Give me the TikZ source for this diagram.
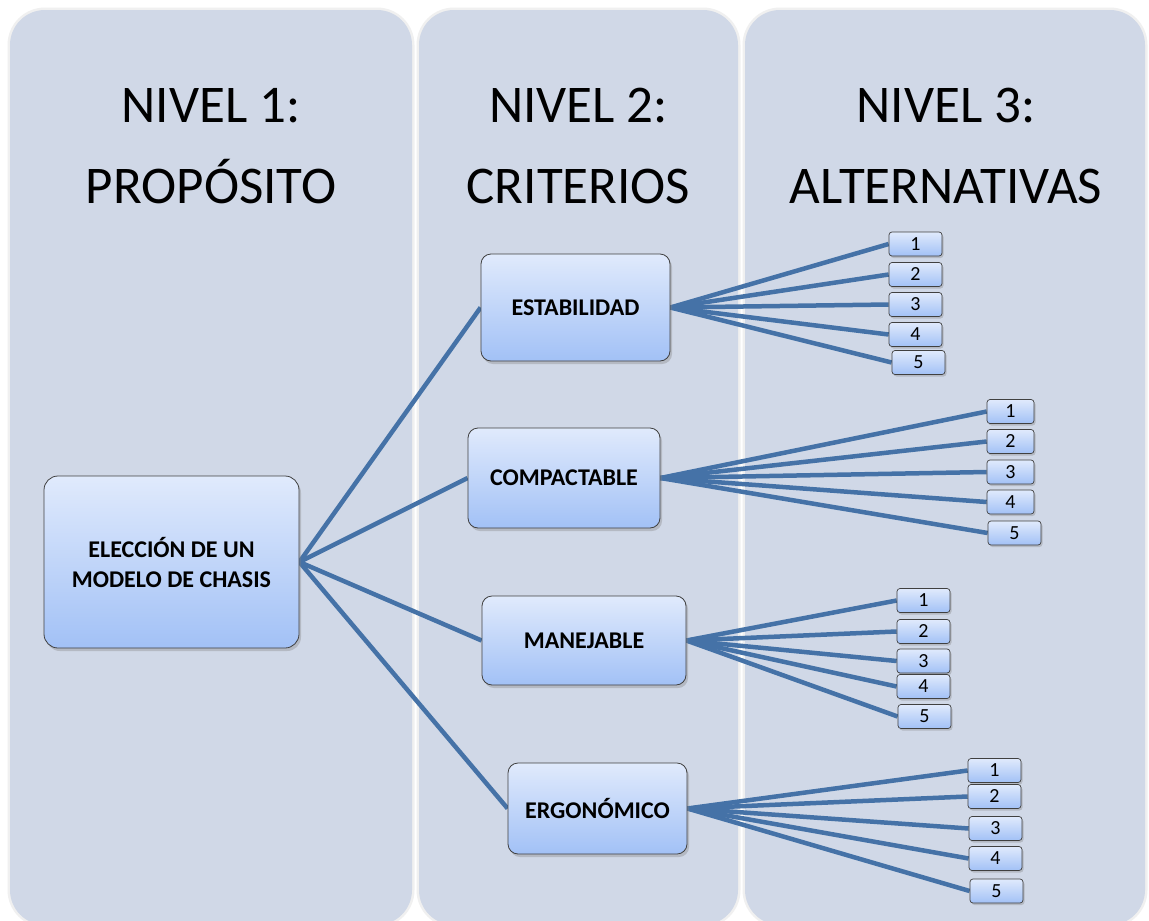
\documentclass[tikz,border=0pt]{standalone}
\usepackage{fontspec}
\setmainfont{Carlito}
\usetikzlibrary{shadows}
\pgfdeclarelayer{panels}
\pgfdeclarelayer{links}
\pgfsetlayers{panels,links,main}
\definecolor{panelfill}{RGB}{208,216,231}
\definecolor{boxtop}{RGB}{224,234,252}
\definecolor{boxbot}{RGB}{162,193,246}
\definecolor{boxline}{RGB}{64,64,64}
\definecolor{linkcol}{RGB}{69,114,167}
\tikzset{
  panel/.style={fill=panelfill, draw=none, rounded corners=35pt},
  title/.style={anchor=base, font=\fontsize{53}{62}\selectfont, text=black, inner sep=0pt},
  critbox/.style={draw=boxline, line width=0.8pt, rounded corners=10pt,
    top color=boxtop, bottom color=boxbot, align=center,
    font=\fontsize{24}{30}\selectfont\bfseries, inner sep=0pt,
    drop shadow={shadow xshift=2pt, shadow yshift=-3pt, opacity=0.35}},
  altbox/.style={draw=boxline, line width=0.7pt, rounded corners=3pt,
    top color=boxtop, bottom color=boxbot, minimum height=24pt,
    font=\fontsize{20}{23}\selectfont, inner sep=0pt,
    drop shadow={shadow xshift=1.5pt, shadow yshift=-2pt, opacity=0.35}},
  link/.style={draw=linkcol, line width=4.5pt}
}
\begin{document}
\begin{tikzpicture}[x=1pt, y=-1pt]
\useasboundingbox (0,0) rectangle (1149,921);
\begin{pgfonlayer}{panels}
  \fill[white] (0,0) rectangle (1149,921);
  \foreach \xa/\xb in {10/412, 419/738, 745/1145} {
    \draw[gray!12, line width=3pt, rounded corners=36pt] (\xa-1,9) rectangle (\xb+1,926);
    \path[panel] (\xa,10) rectangle (\xb,925);
  }
\end{pgfonlayer}

% titles
\node[title] (t1a) at (211,122) {NIVEL 1:};
\node[title] (t1b) at (211,203) {PROPÓSITO};
\node[title] (t2a) at (578.5,122) {NIVEL 2:};
\node[title] (t2b) at (578.5,203) {CRITERIOS};
\node[title] (t3a) at (946,122) {NIVEL 3:};
\node[title] (t3b) at (946,203) {ALTERNATIVAS};

% main and criteria
\node[critbox, minimum width=255pt, minimum height=172pt, rounded corners=14pt] (main) at (171.5,562) {ELECCIÓN DE UN\\MODELO DE CHASIS};
\node[critbox, minimum width=189pt, minimum height=107pt] (est) at (575.5,307.5) {ESTABILIDAD};
\node[critbox, minimum width=192pt, minimum height=100pt] (com) at (564,478) {COMPACTABLE};
\node[critbox, minimum width=204pt, minimum height=89pt] (man) at (584,640.5) {MANEJABLE};
\node[critbox, minimum width=179pt, minimum height=91pt] (erg) at (597.5,808.5) {ERGONÓMICO};

% alternatives
\foreach \g/\n/\x/\y/\w in {
  est/1/915.5/244/53, est/2/915.5/274.5/53, est/3/915.5/304.5/53, est/4/915.5/334.5/53, est/5/918.5/362.5/53,
  com/1/1010.5/411.5/47, com/2/1010.5/441.5/47, com/3/1010.5/472/47, com/4/1010.5/502/47, com/5/1014.5/533/53,
  man/1/923.5/600.5/53, man/2/923.5/631.5/53, man/3/923.5/661/53, man/4/923.5/686.5/53, man/5/924.5/716.5/53,
  erg/1/994.5/770.5/53, erg/2/994.5/796.5/53, erg/3/995.5/828.5/53, erg/4/995.5/858.5/53, erg/5/996.5/891/53} {
  \node[altbox, minimum width=\w pt] (\g\n) at (\x,\y) {\n};
}

\begin{pgfonlayer}{links}
  \foreach \c in {est,com,man,erg} {
    \draw[link] (main.east) -- (\c.west);
    \foreach \n in {1,...,5} {
      \draw[link] (\c.east) -- (\c\n.west);
    }
  }
\end{pgfonlayer}
\end{tikzpicture}
\end{document}
